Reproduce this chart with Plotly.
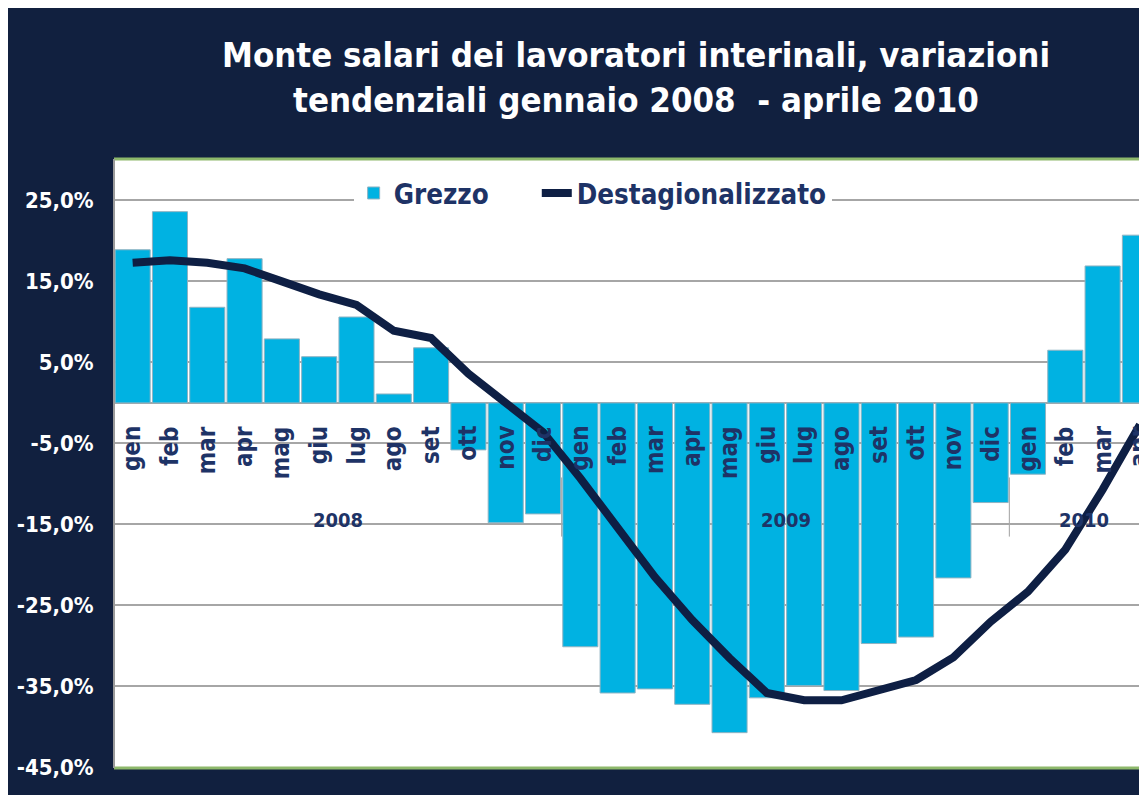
import plotly.graph_objects as go

# mesi da gennaio 2008 ad aprile 2010
mesi = ["gen", "feb", "mar", "apr", "mag", "giu", "lug", "ago", "set", "ott", "nov", "dic",
        "gen", "feb", "mar", "apr", "mag", "giu", "lug", "ago", "set", "ott", "nov", "dic",
        "gen", "feb", "mar", "apr"]
anni = ["2008", "2009", "2010"]
mesi_per_anno = [12, 12, 4]

# variazioni tendenziali (%)
grezzo = [18.9, 23.6, 11.8, 17.8, 7.9, 5.7, 10.6, 1.1, 6.8, -5.8, -14.8, -13.7,
          -30.1, -35.8, -35.3, -37.2, -40.7, -36.4, -34.9, -35.5, -29.7, -28.9, -21.6, -12.3,
          -8.8, 6.5, 16.9, 20.7]
destag = [17.3, 17.6, 17.3, 16.6, 15.0, 13.4, 12.1, 8.9, 8.0, 3.6, 0.0, -3.6,
          -9.3, -15.3, -21.5, -26.8, -31.5, -35.8, -36.7, -36.7, -35.4, -34.2, -31.4, -27.0,
          -23.3, -18.1, -10.7, -2.7]

y_ticks = [25, 15, 5, -5, -15, -25, -35, -45]
y_labels = ["25,0%", "15,0%", "5,0%", "-5,0%", "-15,0%", "-25,0%", "-35,0%", "-45,0%"]

NAVY = "#11203F"
TESTO = "#1E3366"
FONT = "DejaVu Sans Condensed, DejaVu Sans, sans-serif"

x = list(range(len(mesi)))

fig = go.Figure()

# spazi non separabili per allargare la distanza tra le voci della legenda
fig.add_trace(go.Bar(
    x=x, y=grezzo, name="Grezzo" + "\u00a0" * 5,
    marker=dict(color="#00B2E2", line=dict(color="#8FB3C2", width=1)),
))
fig.add_trace(go.Scatter(
    x=x, y=destag, name="Destagionalizzato", mode="lines",
    line=dict(color="#0E1F44", width=8),
))

annotations = []
# etichette dei mesi, ruotate
for i, m in enumerate(mesi):
    annotations.append(dict(
        x=i, y=-2.6, xref="x", yref="y", text=m, showarrow=False,
        textangle=-90, xanchor="center", yanchor="top",
        font=dict(family=FONT, size=24, color=TESTO, weight="bold"),
    ))
# etichette degli anni
start = 0
for anno, n in zip(anni, mesi_per_anno):
    annotations.append(dict(
        x=start + (n - 1) / 2, y=-14.5, xref="x", yref="y", text=anno, showarrow=False,
        font=dict(family=FONT, size=20, color=TESTO, weight="bold"),
    ))
    start += n

shapes = []
# separatori tra gli anni
start = 0
for n in mesi_per_anno[:-1]:
    start += n
    shapes.append(dict(type="line", xref="x", yref="y", x0=start - 0.5, x1=start - 0.5,
                       y0=-9.2, y1=-16.5, line=dict(color="#A0A0A0", width=1), layer="below"))
# bordi dell'area del grafico
shapes += [
    dict(type="line", xref="paper", yref="paper", x0=0, x1=1, y0=1, y1=1,
         line=dict(color="#8DB86B", width=3)),
    dict(type="line", xref="paper", yref="paper", x0=0, x1=1, y0=0, y1=0,
         line=dict(color="#8DB86B", width=3)),
    dict(type="line", xref="paper", yref="paper", x0=0, x1=0, y0=0, y1=1,
         line=dict(color="#9A9A9A", width=2)),
]

fig.update_layout(
    width=1139, height=787,
    margin=dict(l=106, r=0, t=151, b=27),
    paper_bgcolor=NAVY, plot_bgcolor="white",
    bargap=0.06,
    showlegend=True,
    title=dict(
        text="Monte salari dei lavoratori interinali, variazioni<br>tendenziali gennaio 2008  - aprile 2010",
        x=0.5514, xref="container", xanchor="center",
        y=0.925, yref="container", yanchor="middle",
        font=dict(family=FONT, size=34.5, color="white", weight="bold"),
    ),
    legend=dict(
        orientation="h", x=0.232, y=0.944, xanchor="left", yanchor="middle",
        bgcolor="white",
        font=dict(family=FONT, size=27.5, color=TESTO, weight="bold"),
    ),
    annotations=annotations,
    shapes=shapes,
)

fig.update_xaxes(range=[-0.5, 27.19], showticklabels=False, showgrid=False,
                 zeroline=False, showline=False, fixedrange=True)
fig.update_yaxes(range=[-45.06, 30.1], tickvals=y_ticks, ticktext=y_labels,
                 showgrid=True, gridcolor="#A6A6A6", gridwidth=1.5,
                 zeroline=True, zerolinecolor="#A6A6A6", zerolinewidth=2,
                 ticks="outside", ticklen=15, tickcolor=NAVY,
                 tickfont=dict(family=FONT, size=22, color="white", weight="bold"))

fig.write_html("out.html")
